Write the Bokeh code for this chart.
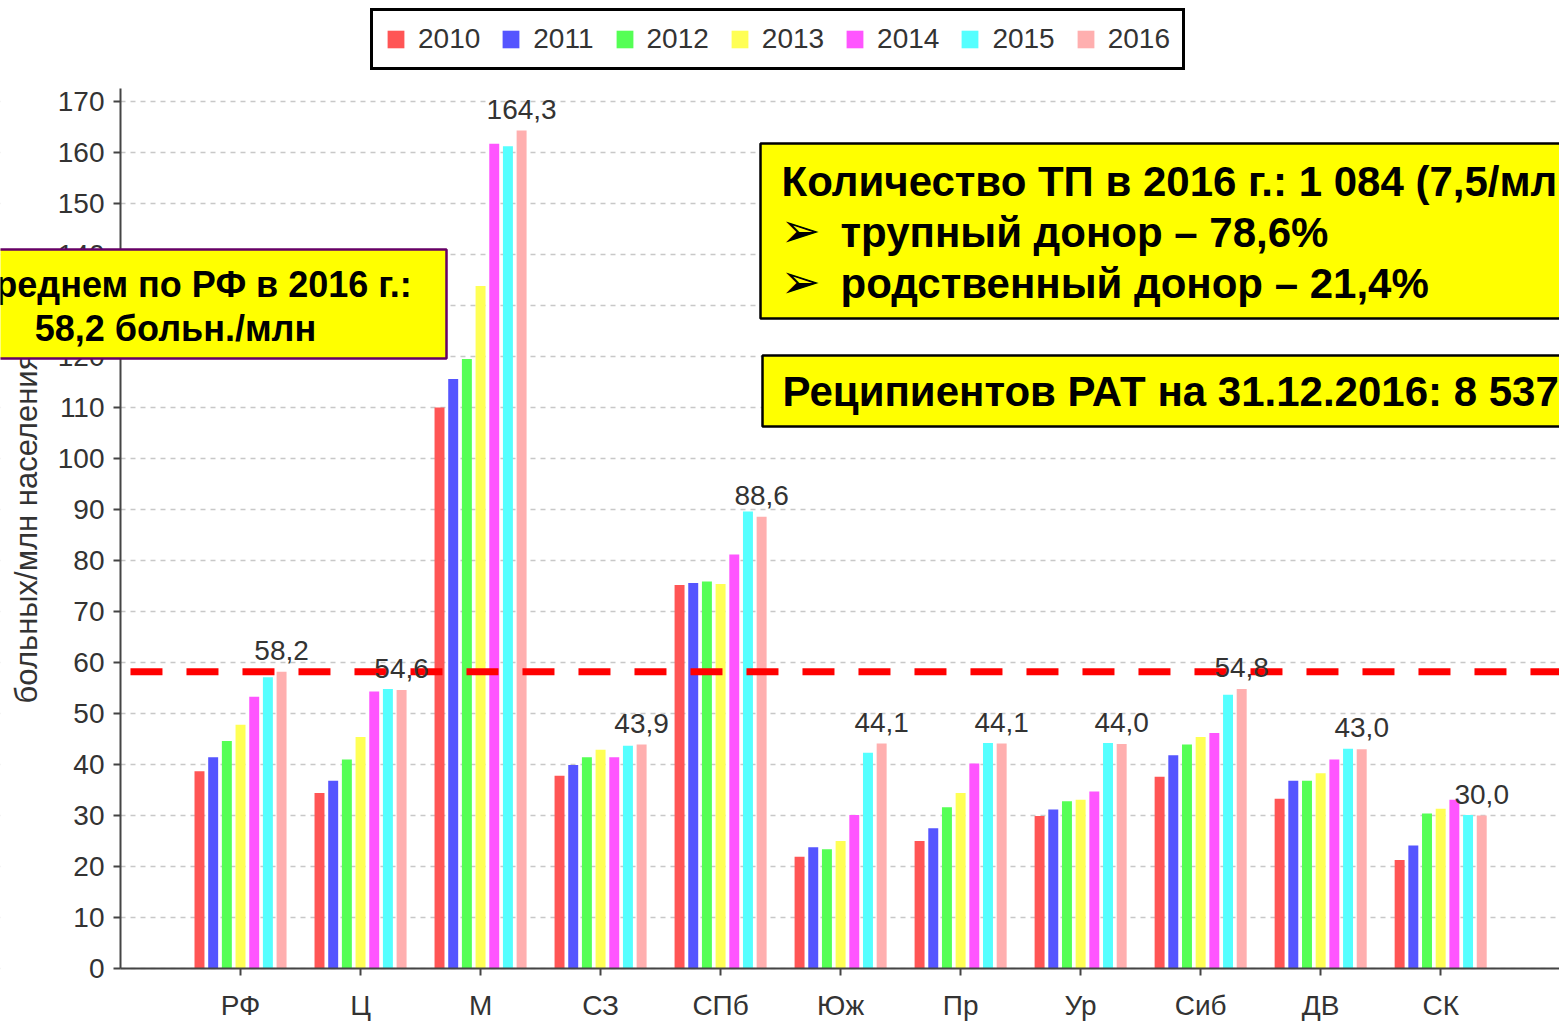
from bokeh.plotting import figure
from bokeh.models import (Range1d, FixedTicker, BoxAnnotation, Label, LabelSet,
                          ColumnDataSource, Legend, LegendItem)
from bokeh.transform import dodge
from bokeh.core.properties import value
from bokeh.embed import file_html
from bokeh.resources import INLINE

categories = ["РФ", "Ц", "М", "СЗ", "СПб", "Юж", "Пр", "Ур", "Сиб", "ДВ", "СК"]
years = ["2010", "2011", "2012", "2013", "2014", "2015", "2016"]
v2010 = [38.7, 34.4, 110.0, 37.8, 75.2, 21.9, 25.0, 29.9, 37.6, 33.3, 21.3]
v2011 = [41.4, 36.8, 115.6, 39.9, 75.6, 23.8, 27.5, 31.2, 41.8, 36.8, 24.1]
v2012 = [44.6, 41.0, 119.5, 41.4, 75.9, 23.4, 31.6, 32.8, 43.9, 36.8, 30.4]
v2013 = [47.8, 45.4, 133.8, 42.9, 75.4, 25.0, 34.4, 33.1, 45.4, 38.3, 31.3]
v2014 = [53.3, 54.3, 161.7, 41.4, 81.2, 30.1, 40.2, 34.7, 46.2, 41.0, 33.1]
v2015 = [57.1, 54.8, 161.2, 43.7, 89.6, 42.3, 44.2, 44.2, 53.7, 43.1, 30.1]
v2016 = [58.2, 54.6, 164.3, 43.9, 88.6, 44.1, 44.1, 44.0, 54.8, 43.0, 30.0]
rf_average_2016 = 58.2
y_ticks = [0, 10, 20, 30, 40, 50, 60, 70, 80, 90, 100, 110, 120, 130, 140, 150, 160, 170]

colors = ["#FF5555", "#5555FF", "#55FF55", "#FFFF55", "#FF55FF", "#55FFFF", "#FFAFAF"]
FONT = "Liberation Sans"

series = [v2010, v2011, v2012, v2013, v2014, v2015, v2016]
data = {"idx": list(range(len(categories))), "cat": categories}
for yr, vals in zip(years, series):
    data["y" + yr] = vals
data["label"] = [f"{v:.1f}".replace(".", ",") for v in v2016]
src = ColumnDataSource(data)

W, H = 1559, 1021
# frame covers the whole canvas; axes are pinned at fixed data locations
p = figure(width=W, height=H,
           x_range=Range1d(-2.0, 10.99), y_range=Range1d(-10.39, 189.8),
           output_backend="svg", toolbar_location=None,
           min_border_left=0, min_border_right=0,
           min_border_top=0, min_border_bottom=0)
p.outline_line_color = None
p.background_fill_color = "white"
p.xgrid.visible = False
p.ygrid.grid_line_color = "#c8c8c8"
p.ygrid.grid_line_dash = "5 5"
p.ygrid.grid_line_width = 1.5

# hide grid left of the y axis
p.add_layout(BoxAnnotation(right=119, right_units="screen", fill_color="white",
                           fill_alpha=1.0, line_color=None, level="underlay"))

step = 0.114
bw = 0.083
renderers = []
for j, yr in enumerate(years):
    r = p.vbar(x=dodge("idx", (j - 3) * step, range=p.x_range), top="y" + yr,
               width=bw, source=src, fill_color=colors[j], line_color=None)
    renderers.append(r)

labels = LabelSet(x=dodge("idx", 3 * step, range=p.x_range), y="y2016", text="label",
                  source=src, y_offset=12, text_align="center", text_baseline="alphabetic",
                  text_font=value(FONT), text_font_size="28px", text_color="#333333",
                  level="glyph")
p.add_layout(labels)

# average line (starts just right of the y axis)
p.ray(x=-0.917, y=rf_average_2016, length=0, angle=0, line_color="#FF0000",
      line_width=7, line_dash="32 24")

# axes
p.xaxis.ticker = FixedTicker(ticks=list(range(len(categories))))
p.xaxis.major_label_overrides = {i: c for i, c in enumerate(categories)}
p.xaxis.fixed_location = 0
p.xaxis.bounds = (-1.0, 10.99)
p.yaxis.ticker = FixedTicker(ticks=y_ticks)
p.yaxis.fixed_location = -1.0
p.yaxis.bounds = (0, 172.55)
for ax in (p.xaxis[0], p.yaxis[0]):
    ax.major_label_text_font = FONT
    ax.major_label_text_font_size = "28px"
    ax.major_label_text_color = "#333333"
    ax.axis_line_color = "#444444"
    ax.axis_line_width = 2
    ax.major_tick_line_color = "#444444"
    ax.major_tick_line_width = 2
    ax.major_tick_in = 0
    ax.major_tick_out = 7
    ax.minor_tick_line_color = None
p.xaxis.major_label_standoff = 14
p.yaxis.major_label_standoff = 9
p.yaxis.axis_label = "больных/млн населения"
p.yaxis.axis_label_text_font = FONT
p.yaxis.axis_label_text_font_size = "31px"
p.yaxis.axis_label_text_font_style = "normal"
p.yaxis.axis_label_text_color = "#333333"
p.yaxis.axis_label_standoff = 11

# legend (screen position, bottom-left corner)
legend = Legend(items=[LegendItem(label=yr, renderers=[r]) for yr, r in zip(years, renderers)],
                orientation="horizontal", location=(370, H - 70))
legend.border_line_color = "black"
legend.border_line_alpha = 1.0
legend.border_line_width = 3
legend.background_fill_color = "white"
legend.background_fill_alpha = 1
legend.label_text_font = FONT
legend.label_text_font_size = "28px"
legend.label_text_color = "#333333"
legend.glyph_width = 21
legend.glyph_height = 22
legend.label_standoff = 12
legend.spacing = 20
legend.padding = 12
legend.margin = 0
p.add_layout(legend, "center")

# yellow boxes, in pixel coordinates measured from the top-left of the canvas
def box(x0, x1, y0, y1, border):
    p.add_layout(BoxAnnotation(left=x0, right=x1, top=H - y0, bottom=H - y1,
                               left_units="screen", right_units="screen",
                               top_units="screen", bottom_units="screen",
                               fill_color="#FFFF00", fill_alpha=1.0,
                               line_color=border, line_alpha=1.0, line_width=2.5,
                               level="overlay"))

def label(x, y, text, size, align="left", font=FONT):
    p.add_layout(Label(x=x, y=H - y, x_units="screen", y_units="screen", text=text,
                       text_font=font, text_font_size=size, text_font_style="bold",
                       text_align=align, text_baseline="alphabetic",
                       text_color="black", level="overlay"))

box(-97, 446, 249, 358, "#660066")
label(175, 284, "В среднем по РФ в 2016 г.:", "36px", "center")
label(175, 328, "58,2 больн./млн", "36px", "center")

box(760, 1600, 143, 318, "black")
label(781, 181, "Количество ТП в 2016 г.: 1 084 (7,5/млн)", "42px")
label(780, 229, "➢", "48px", font="DejaVu Sans")
label(840, 232, "трупный донор – 78,6%", "42px")
label(780, 280, "➢", "48px", font="DejaVu Sans")
label(840, 283, "родственный донор – 21,4%", "42px")

box(762, 1600, 355, 426, "black")
label(782, 391, "Реципиентов РАТ на 31.12.2016: 8 537", "42px")

open("out.html", "w").write(file_html(p, INLINE))
